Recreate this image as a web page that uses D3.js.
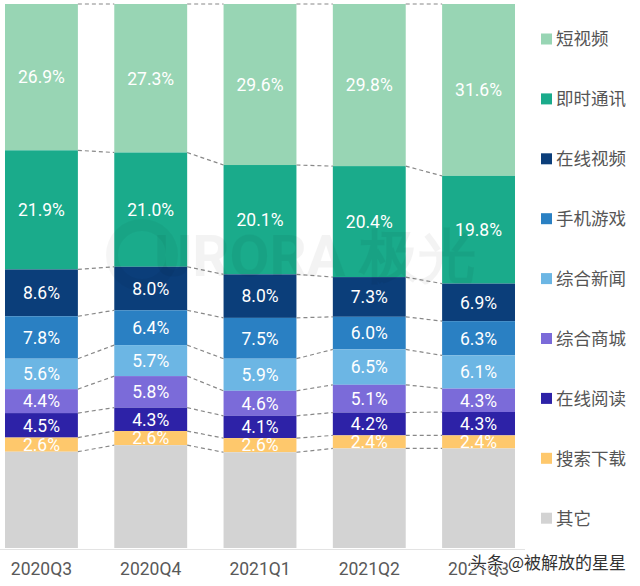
<!DOCTYPE html>
<html><head><meta charset="utf-8">
<script src="https://cdn.jsdelivr.net/npm/d3@7"></script>
<style>body{margin:0;background:#fff}svg{display:block}</style>
</head><body>
<svg id="c" width="640" height="586"></svg>
<script>
const quarters = ["2020Q3","2020Q4","2021Q1","2021Q2","2021Q3"];
const seriesNames = ["短视频","即时通讯","在线视频","手机游戏","综合新闻","综合商城","在线阅读","搜索下载","其它"];
const colors = ["#98d5b4","#1aab8b","#0b3e7a","#2a80c3","#6cb6e4","#7b6bd9","#2d22a7","#fec86c","#d3d3d3"];
const shortVideo = [26.9,27.3,29.6,29.8,31.6];
const instantMsg = [21.9,21.0,20.1,20.4,19.8];
const onlineVideo = [8.6,8.0,8.0,7.3,6.9];
const mobileGame = [7.8,6.4,7.5,6.0,6.3];
const news = [5.6,5.7,5.9,6.5,6.1];
const mall = [4.4,5.8,4.6,5.1,4.3];
const reading = [4.5,4.3,4.1,4.2,4.3];
const search = [2.6,2.6,2.6,2.4,2.4];
const other = [17.7,18.9,17.6,18.3,18.3];
const seriesValues = [shortVideo,instantMsg,onlineVideo,mobileGame,news,mall,reading,search,other];

const svg = d3.select("#c");
const x = d3.scaleBand().domain(quarters).range([5,515]).paddingInner(0.333).paddingOuter(0);
const y = d3.scaleLinear().domain([0,100]).range([4,548]);

const stacks = quarters.map((q,i)=>{
  let acc=0;
  return seriesValues.map((s,k)=>{const y0=acc; acc+=s[i]; return {k,q,v:s[i],y0,y1:acc};});
});

const g = svg.append("g");
stacks.forEach(st=>{
  st.forEach(d=>{
    g.append("rect").attr("x",x(d.q)).attr("width",x.bandwidth())
      .attr("y",y(d.y0)).attr("height",y(d.y1)-y(d.y0)).attr("fill",colors[d.k]);
  });
});

// dashed connectors
for(let i=0;i<quarters.length-1;i++){
  for(let k=0;k<seriesValues.length;k++){
    const a=stacks[i][k].y0, b=stacks[i+1][k].y0;
    svg.append("line").attr("x1",x(quarters[i])+x.bandwidth()).attr("x2",x(quarters[i+1]))
      .attr("y1",y(a)).attr("y2",y(b)).attr("stroke","#888").attr("stroke-width",1.2)
      .attr("stroke-dasharray","4,3");
  }
}

// faint watermark
svg.append("circle").attr("cx",142).attr("cy",255).attr("r",30).attr("fill","none")
  .attr("stroke","#000").attr("stroke-width",12).attr("opacity",0.04);
svg.append("text").attr("x",315).attr("y",276).attr("text-anchor","middle")
  .attr("font-family","Roboto, Arial, sans-serif").attr("font-weight","700").attr("font-size",58)
  .attr("fill","#000").attr("opacity",0.045).text("URORA 极光");

// labels
stacks.forEach(st=>{
  st.forEach(d=>{
    if(d.k===seriesValues.length-1) return;
    svg.append("text").attr("x",x(d.q)+x.bandwidth()/2).attr("y",(y(d.y0)+y(d.y1))/2)
      .attr("dy","0.36em").attr("text-anchor","middle").attr("fill","#fff")
      .attr("font-family","Roboto, 'Noto Sans', sans-serif").attr("font-size",17.5)
      .text(d.v.toFixed(1)+"%");
  });
});

// axis
const ax = svg.append("g").attr("transform","translate(0,549)")
  .call(d3.axisBottom(x).tickSize(0).tickPadding(14));
ax.select(".domain").attr("stroke","#e3e3e3").attr("d","M0,0.5H525");
ax.selectAll("text").attr("font-family","Roboto, 'Noto Sans', sans-serif").attr("font-size",17.5).attr("fill","#595959");

// legend
const lg = svg.append("g");
seriesNames.forEach((n,k)=>{
  const yy = 39 + k*59.9;
  lg.append("rect").attr("x",541).attr("y",yy-5.5).attr("width",11).attr("height",11).attr("fill",colors[k]);
  lg.append("text").attr("x",556).attr("y",yy).attr("dy","0.36em")
    .attr("font-family","'Noto Sans CJK SC', sans-serif").attr("font-size",17.5).attr("fill","#555").text(n);
});

// bottom-right watermark
svg.append("text").attr("x",626).attr("y",569).attr("text-anchor","end")
  .attr("font-family","'Noto Sans CJK SC', sans-serif").attr("font-size",17)
  .attr("fill","#333").attr("stroke","#fff").attr("stroke-width",1.5).attr("paint-order","stroke")
  .text("头条 @被解放的星星");
</script>
</body></html>
